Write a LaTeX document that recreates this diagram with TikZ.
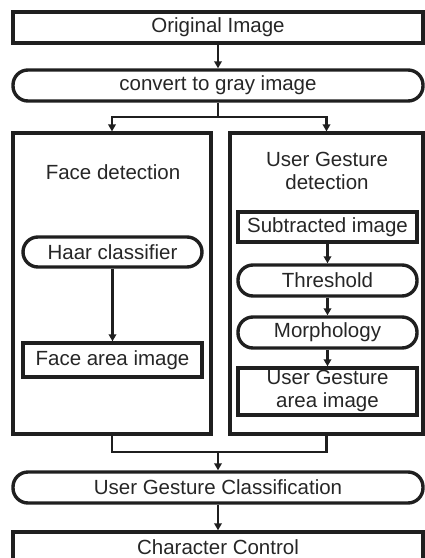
\documentclass[tikz,border=0pt]{standalone}
\usepackage{fontspec}
\setmainfont{Liberation Sans}
\usetikzlibrary{arrows.meta}
\begin{document}
\begin{tikzpicture}[x=1pt,y=-1pt,
  every node/.style={font=\fontsize{20.5}{23}\selectfont, text=black!85, inner sep=0pt},
  boxed/.style={draw=black!88, line width=3.4pt, minimum height=31pt},
  pill/.style={boxed, rounded corners=15pt},
  panel/.style={draw=black!88, line width=3.2pt},
  flow/.style={draw=black!88, line width=2.2pt},
  arrow/.style={flow, -{Triangle[length=7pt,width=7.5pt]}}
]
\useasboundingbox (0,0) rectangle (425,558);
\clip (0,0) rectangle (425,558);

% top of the pipeline
\node[boxed, minimum width=410pt] (orig) at (218,27.5) {Original Image};
\node[pill, minimum width=410pt] (gray) at (218,85.5) {convert to gray image};

% the two detection panels
\node[panel, minimum width=198pt, minimum height=301pt] (face) at (112,283.5) {};
\node[panel, minimum width=193pt, minimum height=301pt] (gest) at (326.5,283.5) {};

\node (facetitle) at (113,172) {Face detection};
\node[align=center] (gesttitle) at (327,170.5) {User Gesture\\detection};

% face branch
\node[pill, minimum width=179pt, minimum height=30pt] (haar) at (112.5,252) {Haar classifier};
\node[boxed, minimum width=179pt, minimum height=34pt] (facearea) at (112.5,360) {Face area image};

% gesture branch
\node[boxed, minimum width=179pt, minimum height=30pt] (sub) at (327.5,227) {Subtracted image};
\node[pill, minimum width=179pt] (thr) at (327.5,280.5) {Threshold};
\node[pill, minimum width=179pt] (morph) at (327.5,332.5) {Morphology};
\node[boxed, minimum width=179pt, minimum height=47pt] (ugarea) at (327.5,391.5) {};
\node[align=center, font=\fontsize{20.5}{23}\selectfont] (ugtext) at (327.5,391) {User Gesture\\area image};

% bottom of the pipeline
\node[pill, minimum width=410pt] (class) at (218,487.5) {User Gesture Classification};
\node[boxed, minimum width=410pt, minimum height=34pt] (ctrl) at (218,549) {};
\node[anchor=base] (ctrltext) at (218,554.5) {Character Control};

% connectors
\coordinate (split) at (218,117);
\coordinate (merge) at (218,452);
\draw[arrow] (orig) -- (gray);
\draw[flow] (gray.south) -- (split);
\draw[arrow] (split) -| (face.north);
\draw[arrow] (split) -| (gest.north);
\draw[arrow] (haar) -- (facearea);
\draw[arrow] (sub) -- (thr);
\draw[arrow] (thr) -- (morph);
\draw[arrow] (morph) -- (ugarea);
\draw[flow] (face.south) |- (merge);
\draw[flow] (gest.south) |- (merge);
\draw[arrow] (merge) -- (class.north);
\draw[arrow] (class) -- (ctrl);
\end{tikzpicture}
\end{document}
